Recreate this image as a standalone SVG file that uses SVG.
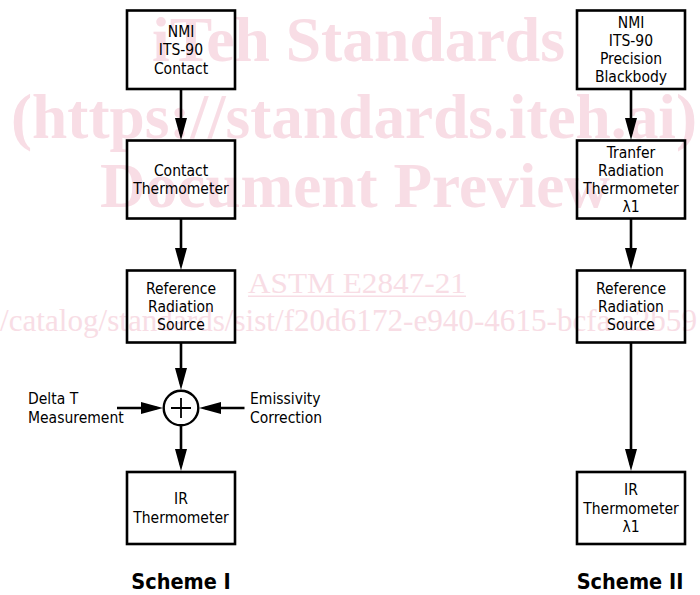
<svg xmlns="http://www.w3.org/2000/svg" width="700" height="595" viewBox="0 0 700 595">
  <style>
    .wm { font-family: "Liberation Serif", "Times New Roman", serif; fill: #f8dde5; }
    .wmb { font-weight: bold; font-size: 63px; }
    .box { fill: none; stroke: #000; stroke-width: 2.6; }
    .lbl { font-family: "DejaVu Sans Condensed", "DejaVu Sans", sans-serif; font-stretch: condensed; font-size: 15.5px; fill: #000; text-anchor: middle; }
    .side { font-family: "DejaVu Sans Condensed", "DejaVu Sans", sans-serif; font-stretch: condensed; font-size: 15.5px; fill: #000; }
    .title { font-family: "DejaVu Sans Condensed", "DejaVu Sans", sans-serif; font-stretch: condensed; font-weight: bold; font-size: 21.5px; fill: #000; text-anchor: middle; }
    .conn line { stroke: #000; stroke-width: 2.6; marker-end: url(#arrow); }
  </style>
  <defs>
    <marker id="arrow" markerUnits="userSpaceOnUse" markerWidth="22" markerHeight="12" refX="16" refY="6" orient="auto">
      <path d="M0,0 L22,6 L0,12 z" fill="#000"/>
    </marker>
  </defs>
  <rect width="700" height="595" fill="#fff"/>

  <g id="watermark" class="wm">
    <text class="wmb" x="152" y="61" textLength="413" lengthAdjust="spacingAndGlyphs">iTeh Standards</text>
    <text class="wmb" x="11" y="138" textLength="686" lengthAdjust="spacingAndGlyphs">(https://standards.iteh.ai)</text>
    <text class="wmb" x="100" y="207" textLength="510" lengthAdjust="spacingAndGlyphs">Document Preview</text>
    <text x="248" y="293" font-size="29" textLength="218" lengthAdjust="spacingAndGlyphs">ASTM E2847-21</text>
    <rect x="248" y="295.5" width="218" height="1.5"/>
    <text x="0" y="331" font-size="31" textLength="697" lengthAdjust="spacingAndGlyphs">/catalog/standards/sist/f20d6172-e940-4615-bcfa-a2b59</text>
  </g>

  <g id="connectors" class="conn">
    <line x1="181" y1="89" x2="181" y2="134"/>
    <line x1="181" y1="219" x2="181" y2="264"/>
    <line x1="181" y1="343" x2="181" y2="384"/>
    <line x1="181" y1="426" x2="181" y2="465"/>
    <line x1="117" y1="408" x2="157" y2="408"/>
    <line x1="244.5" y1="408" x2="205" y2="408"/>
    <line x1="631" y1="89" x2="631" y2="134"/>
    <line x1="631" y1="219" x2="631" y2="264"/>
    <line x1="631" y1="343" x2="631" y2="465"/>
  </g>

  <g id="nmi-contact">
    <rect class="box" x="127" y="10.5" width="108" height="78.5"/>
    <text class="lbl" x="181" y="37">NMI</text>
    <text class="lbl" x="181" y="55.3">ITS-90</text>
    <text class="lbl" x="181" y="73.6">Contact</text>
  </g>
  <g id="contact-thermometer">
    <rect class="box" x="127" y="140.5" width="108" height="78"/>
    <text class="lbl" x="181" y="175.8">Contact</text>
    <text class="lbl" x="181" y="194.1">Thermometer</text>
  </g>
  <g id="reference-source-1">
    <rect class="box" x="127" y="270.5" width="108" height="72"/>
    <text class="lbl" x="181" y="293.7">Reference</text>
    <text class="lbl" x="181" y="312">Radiation</text>
    <text class="lbl" x="181" y="330.3">Source</text>
  </g>
  <g id="sum">
    <circle cx="181" cy="408" r="17.3" fill="none" stroke="#000" stroke-width="2.4"/>
    <path d="M171,408 H191 M181,398 V418" stroke="#000" stroke-width="1.8" fill="none"/>
  </g>
  <g id="delta-t">
    <text class="side" x="28" y="404.3">Delta T</text>
    <text class="side" x="28" y="422.6">Measurement</text>
  </g>
  <g id="emissivity">
    <text class="side" x="250" y="404.3">Emissivity</text>
    <text class="side" x="250" y="422.6">Correction</text>
  </g>
  <g id="ir-thermometer-1">
    <rect class="box" x="127" y="472" width="108" height="72"/>
    <text class="lbl" x="181" y="504.3">IR</text>
    <text class="lbl" x="181" y="522.6">Thermometer</text>
  </g>
  <g id="scheme-1">
    <text class="title" x="181" y="589">Scheme I</text>
  </g>

  <g id="nmi-blackbody">
    <rect class="box" x="577" y="10.5" width="108" height="78.5"/>
    <text class="lbl" x="631" y="27.5">NMI</text>
    <text class="lbl" x="631" y="45.8">ITS-90</text>
    <text class="lbl" x="631" y="64.1">Precision</text>
    <text class="lbl" x="631" y="82.4">Blackbody</text>
  </g>
  <g id="transfer-thermometer">
    <rect class="box" x="577" y="140.5" width="108" height="78"/>
    <text class="lbl" x="631" y="157.5">Tranfer</text>
    <text class="lbl" x="631" y="175.8">Radiation</text>
    <text class="lbl" x="631" y="194.1">Thermometer</text>
    <text class="lbl" x="631" y="212.4">λ1</text>
  </g>
  <g id="reference-source-2">
    <rect class="box" x="577" y="270.5" width="108" height="72"/>
    <text class="lbl" x="631" y="293.7">Reference</text>
    <text class="lbl" x="631" y="312">Radiation</text>
    <text class="lbl" x="631" y="330.3">Source</text>
  </g>
  <g id="ir-thermometer-2">
    <rect class="box" x="577" y="472" width="108" height="72"/>
    <text class="lbl" x="631" y="495.2">IR</text>
    <text class="lbl" x="631" y="513.5">Thermometer</text>
    <text class="lbl" x="631" y="531.8">λ1</text>
  </g>
  <g id="scheme-2">
    <text class="title" x="630" y="589">Scheme II</text>
  </g>
</svg>
